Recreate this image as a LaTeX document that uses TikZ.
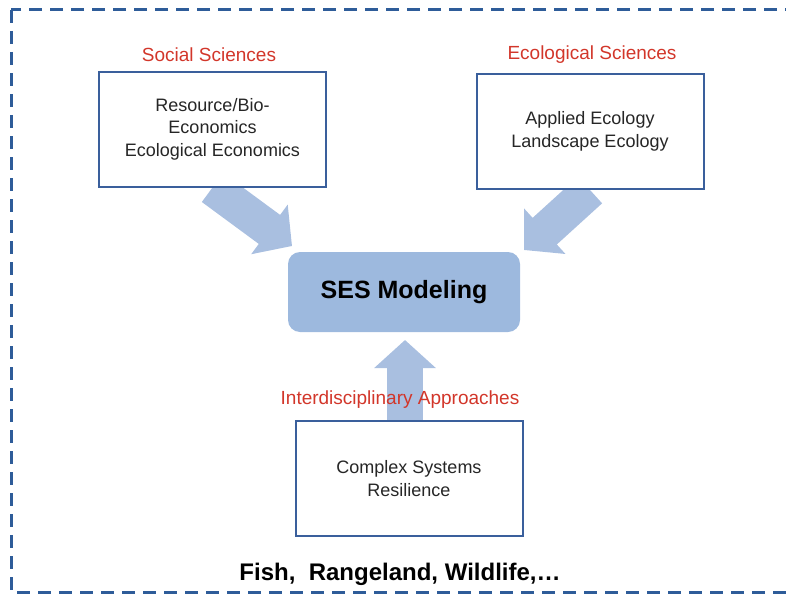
\documentclass[tikz,border=0pt]{standalone}
\usepackage{fontspec}
\setmainfont{Liberation Sans}
\usetikzlibrary{positioning}
\usetikzlibrary{arrows.meta,backgrounds}
\definecolor{frameblue}{HTML}{2E5C99}
\definecolor{boxblue}{HTML}{3A5F9C}
\definecolor{fieldred}{HTML}{D2362A}
\definecolor{sesblue}{HTML}{9DB9DE}
\definecolor{flowblue}{HTML}{A9BFE0}
\tikzstyle{fieldbox}=[rectangle,draw=boxblue,line width=2pt,fill=white,minimum width=227pt,minimum height=115pt,align=center,text=black!85,font=\fontsize{18}{22.5}\selectfont]
\tikzstyle{fieldlabel}=[text=fieldred,font=\fontsize{19}{22}\selectfont]
\tikzstyle{sesbox}=[rectangle,rounded corners=12pt,fill=sesblue,minimum width=232pt,minimum height=80pt,font=\fontsize{25}{28}\selectfont\bfseries]
\tikzstyle{flow} = [draw=flowblue,line width=36pt,-{Triangle[width=60pt,length=28pt]},fill=flowblue]

\begin{document}
\begin{tikzpicture}[x=1pt,y=-1pt]
   \useasboundingbox (0,0) rectangle (786,594);

   % outer dashed frame, its right side runs off the page
   \draw[frameblue, line width=3pt, dash pattern=on 13pt off 8pt] (11,10) rectangle (820,592);

   \node[fieldbox] (social) at (212.5,129) {Resource/Bio-\\Economics\\Ecological Economics};
   \node[fieldbox] (ecol) at (590,131.5) {Applied Ecology\\Landscape Ecology};
   \node[fieldbox] (inter) at (409,478.5) {Complex Systems\\Resilience};
   \node[sesbox] (ses) at (404,292) {SES Modeling};

   \foreach \name/\pos/\txt in {sociallbl/{(209,55)}/Social Sciences, ecollbl/{(592,55)}/Ecological Sciences}
        \node[fieldlabel] (\name) at \pos {\txt};

   % tips of the three flows
   \coordinate (tipL) at (292,246);
   \coordinate (tipR) at (524,250);
   \coordinate (tipU) at (405,340);

   \begin{pgfonlayer}{background}
    \foreach \source/\dest in {social.south/tipL, ecol.south/tipR, {tipU |- inter.north}/tipU}
            \draw[flow] (\source) -- (\dest);
   \end{pgfonlayer}

   \node[fieldlabel] (interlbl) at (400,400) {Interdisciplinary Approaches};

   \node[font=\fontsize{24}{27}\selectfont\bfseries] (cases) at (400,574) {Fish,\ \ Rangeland, Wildlife,\dots};
\end{tikzpicture}
\end{document}
